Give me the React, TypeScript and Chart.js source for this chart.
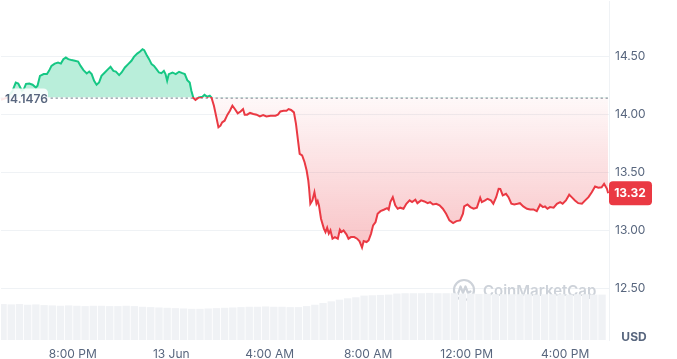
import React, { useEffect, useRef } from 'react';
import { Chart, registerables } from 'chart.js';

Chart.register(...registerables);

// Reference (open) price and latest price
const BASELINE = 14.1476;
const LAST_PRICE = 13.32;

// Time of each price sample, minutes since 12 Jun 00:00
const times = [
  1025, 1039, 1052, 1061, 1067, 1072, 1076, 1081, 1086, 1094, 1102, 1110, 1114, 1120, 1129, 1137, 1142, 1148, 1156, 1164,
  1171, 1177, 1183, 1189, 1197, 1205, 1213, 1219, 1226, 1234, 1240, 1246, 1252, 1258, 1264, 1270, 1278, 1286, 1292, 1299,
  1305, 1313, 1319, 1327, 1335, 1343, 1349, 1357, 1364, 1370, 1374, 1380, 1386, 1392, 1398, 1404, 1410, 1416, 1422, 1426,
  1430, 1434, 1443, 1451, 1459, 1467, 1473, 1479, 1485, 1489, 1494, 1499, 1507, 1516, 1521, 1528, 1534, 1538, 1544, 1550,
  1555, 1560, 1564, 1570, 1577, 1583, 1589, 1595, 1602, 1609, 1615, 1619, 1625, 1632, 1640, 1648, 1656, 1664, 1672, 1682,
  1694, 1700, 1706, 1714, 1721, 1726, 1732, 1739, 1744, 1749, 1753, 1759, 1765, 1770, 1774, 1776, 1779, 1784, 1789, 1794,
  1797, 1800, 1805, 1812, 1816, 1820, 1824, 1828, 1833, 1839, 1846, 1851, 1855, 1860, 1867, 1872, 1878, 1886, 1893, 1899,
  1905, 1909, 1916, 1921, 1927, 1932, 1938, 1943, 1950, 1958, 1966, 1970, 1974, 1980, 1986, 1992, 1998, 2006, 2013, 2021,
  2027, 2035, 2040, 2049, 2057, 2065, 2071, 2078, 2086, 2094, 2102, 2110, 2118, 2127, 2135, 2144, 2151, 2154, 2162, 2169,
  2177, 2185, 2193, 2197, 2205, 2211, 2219, 2225, 2232, 2238, 2242, 2248, 2256, 2262, 2269, 2276, 2284, 2290, 2298, 2307,
  2315, 2323, 2331, 2339, 2346, 2351, 2357, 2363, 2372, 2380, 2388, 2394, 2402, 2410, 2416, 2424, 2432, 2441, 2449, 2457,
  2465, 2473, 2481, 2489, 2495, 2502, 2505,
];

// Price in USD
const prices = [
  14.129, 14.147, 14.198, 14.278, 14.27, 14.235, 14.207, 14.224, 14.267, 14.27, 14.259, 14.235, 14.25, 14.336, 14.351, 14.351, 14.379, 14.422, 14.442, 14.451,
  14.442, 14.48, 14.494, 14.48, 14.472, 14.466, 14.459, 14.422, 14.385, 14.356, 14.373, 14.351, 14.293, 14.259, 14.278, 14.336, 14.365, 14.394, 14.414, 14.379,
  14.373, 14.342, 14.365, 14.408, 14.437, 14.466, 14.5, 14.528, 14.546, 14.566, 14.558, 14.517, 14.48, 14.437, 14.422, 14.394, 14.365, 14.359, 14.379, 14.351,
  14.293, 14.351, 14.365, 14.351, 14.371, 14.359, 14.351, 14.299, 14.278, 14.207, 14.144, 14.127, 14.149, 14.155, 14.172, 14.155, 14.164, 14.149, 14.078, 13.977,
  13.891, 13.905, 13.934, 13.948, 14.0, 14.034, 14.078, 14.049, 14.011, 14.028, 14.049, 14.0, 14.0, 14.015, 14.006, 14.0, 13.985, 13.997, 13.985, 13.991,
  13.991, 14.0, 14.028, 14.034, 14.034, 14.049, 14.041, 14.02, 13.92, 13.776, 13.661, 13.647, 13.589, 13.517, 13.431, 13.362, 13.23, 13.259, 13.33, 13.23,
  13.253, 13.216, 13.101, 13.015, 12.985, 13.023, 12.972, 13.0, 12.928, 12.942, 12.928, 13.006, 12.985, 13.0, 12.966, 12.928, 12.942, 12.942, 12.928, 12.905,
  12.851, 12.908, 12.899, 12.914, 12.972, 13.043, 13.072, 13.144, 13.166, 13.178, 13.192, 13.178, 13.244, 13.287, 13.216, 13.187, 13.196, 13.187, 13.23, 13.259,
  13.244, 13.265, 13.235, 13.259, 13.25, 13.235, 13.244, 13.224, 13.23, 13.216, 13.187, 13.144, 13.086, 13.063, 13.08, 13.086, 13.144, 13.207, 13.224, 13.201,
  13.187, 13.196, 13.282, 13.244, 13.259, 13.273, 13.259, 13.23, 13.287, 13.359, 13.358, 13.302, 13.316, 13.287, 13.23, 13.224, 13.23, 13.235, 13.207, 13.187,
  13.181, 13.181, 13.166, 13.222, 13.201, 13.207, 13.187, 13.201, 13.196, 13.23, 13.244, 13.23, 13.259, 13.308, 13.287, 13.259, 13.235, 13.23, 13.259, 13.287,
  13.33, 13.379, 13.368, 13.373, 13.403, 13.359, 13.32,
];

// Volume bars: one every 20 minutes starting at 17:10 on 12 Jun (millions USD)
const VOLUME_START = 1030;
const VOLUME_STEP = 20;
const volumes = [
  10.6, 10.5, 10.6, 10.4, 10.5, 10.3,
  10.2, 10.1, 10.2, 10.1, 10.0, 10.1, 10.1, 10.0, 10.0, 10.1, 10.0,
  9.8, 9.7, 9.6, 9.5, 9.4, 9.3, 9.2, 9.2, 9.3, 9.4, 9.5, 9.6,
  9.7, 9.8, 9.8, 9.9, 9.8, 9.8, 9.7, 9.7,
  10.0, 10.4, 10.9, 11.4, 11.9, 12.3, 12.6,
  13.1, 13.2, 13.3, 13.4,
  13.7, 13.8, 13.8, 13.8, 13.9, 13.8, 13.8, 13.8, 13.7, 13.7,
  13.6, 13.6, 13.5, 13.5, 13.5, 13.5, 13.5, 13.4, 13.5, 13.5, 13.5, 13.4, 13.5, 13.5, 13.4, 13.4,
];

// Axes
const xTickValues = [1200, 1440, 1680, 1920, 2160, 2400];
const xTickLabels = ['8:00 PM', '13 Jun', '4:00 AM', '8:00 AM', '12:00 PM', '4:00 PM'];
const yTickValues = [12.5, 13.0, 13.5, 14.0, 14.5];
const X_MIN = 1025;
const X_MAX = 2507;
const Y_MIN = 12.052;
const Y_MAX = 14.983;
const VOLUME_AXIS_MAX = 100;

const GREEN = '#16c784';
const RED = '#ea3943';
const TEXT = '#58667e';
const GRID = '#eff2f5';
const FONT = "Inter, 'Noto Sans', sans-serif";

function roundRect(ctx: CanvasRenderingContext2D, x: number, y: number, w: number, h: number, r: number) {
  ctx.beginPath();
  ctx.moveTo(x + r, y);
  ctx.lineTo(x + w - r, y);
  ctx.quadraticCurveTo(x + w, y, x + w, y + r);
  ctx.lineTo(x + w, y + h - r);
  ctx.quadraticCurveTo(x + w, y + h, x + w - r, y + h);
  ctx.lineTo(x + r, y + h);
  ctx.quadraticCurveTo(x, y + h, x, y + h - r);
  ctx.lineTo(x, y + r);
  ctx.quadraticCurveTo(x, y, x + r, y);
  ctx.closePath();
}

const overlayPlugin = {
  id: 'overlay',
  beforeDatasetsDraw(chart: any) {
    const { ctx, chartArea: a, scales } = chart;
    const by = scales.y.getPixelForValue(BASELINE);
    ctx.save();
    // watermark
    const wy = a.bottom - 50;
    const cx = a.right - 145;
    ctx.strokeStyle = '#cdd2d9';
    ctx.lineWidth = 2.2;
    ctx.lineJoin = 'round';
    ctx.lineCap = 'round';
    ctx.beginPath();
    ctx.arc(cx, wy, 10, 0, Math.PI * 2);
    ctx.stroke();
    ctx.beginPath();
    ctx.moveTo(cx - 6, wy + 4);
    ctx.lineTo(cx - 3.5, wy - 3.5);
    ctx.lineTo(cx - 1, wy + 3);
    ctx.lineTo(cx + 1.5, wy - 3.5);
    ctx.lineTo(cx + 4, wy + 3);
    ctx.lineTo(cx + 6.5, wy + 1.5);
    ctx.stroke();
    ctx.fillStyle = '#cdd2d9';
    ctx.font = `600 15px ${FONT}`;
    ctx.textBaseline = 'middle';
    ctx.textAlign = 'left';
    ctx.fillText('CoinMarketCap', cx + 19, wy + 1);
    // dotted baseline
    ctx.strokeStyle = '#707a8a';
    ctx.lineWidth = 1;
    ctx.setLineDash([1.5, 3.5]);
    ctx.beginPath();
    ctx.moveTo(a.left, by + 0.5);
    ctx.lineTo(a.right, by + 0.5);
    ctx.stroke();
    ctx.restore();
  },
  afterDraw(chart: any) {
    const { ctx, chartArea: a, scales } = chart;
    const by = scales.y.getPixelForValue(BASELINE);
    const py = scales.y.getPixelForValue(LAST_PRICE);
    ctx.save();
    // baseline label
    ctx.fillStyle = 'rgba(255,255,255,0.88)';
    roundRect(ctx, a.left - 6, by - 9, 53, 22, 5);
    ctx.fill();
    ctx.fillStyle = TEXT;
    ctx.font = `600 12px ${FONT}`;
    ctx.textBaseline = 'middle';
    ctx.textAlign = 'left';
    ctx.fillText(BASELINE.toFixed(4), a.left + 4, by + 2);
    // last price tag
    ctx.fillStyle = RED;
    roundRect(ctx, a.right, py - 12, 43, 24, 4);
    ctx.fill();
    ctx.fillStyle = '#ffffff';
    ctx.font = `700 12px ${FONT}`;
    ctx.textAlign = 'center';
    ctx.fillText(LAST_PRICE.toFixed(2), a.right + 21, py);
    // currency
    ctx.fillStyle = TEXT;
    ctx.font = `700 12px ${FONT}`;
    ctx.fillText('USD', a.right + 25, a.bottom - 3);
    ctx.restore();
  },
};

export default function App() {
  const ref = useRef<HTMLCanvasElement | null>(null);
  useEffect(() => {
    if (!ref.current) return;
    Chart.defaults.font.family = FONT;
    const lineData = times.map((t, i) => ({ x: t, y: prices[i] }));
    const volData = volumes.map((v, i) => ({ x: VOLUME_START + i * VOLUME_STEP, y: v }));
    const chart = new Chart(ref.current, {
      type: 'line',
      data: {
        datasets: [
          {
            type: 'line',
            data: lineData,
            borderColor: RED,
            borderWidth: 2,
            pointRadius: 0,
            tension: 0,
            fill: { target: { value: BASELINE }, above: 'rgba(22,199,132,0.3)', below: 'rgba(234,57,67,0.12)' },
            yAxisID: 'y',
            order: 0,
          } as any,
          {
            type: 'bar',
            data: volData,
            backgroundColor: '#f0f2f5',
            borderWidth: 0,
            barPercentage: 0.9,
            categoryPercentage: 1,
            yAxisID: 'y2',
            order: 1,
          } as any,
        ],
      },
      options: {
        responsive: false,
        animation: false,
        layout: { padding: 0 },
        plugins: { legend: { display: false }, tooltip: { enabled: false } },
        scales: {
          x: {
            type: 'linear',
            min: X_MIN,
            max: X_MAX,
            offset: false,
            grid: { display: false, drawTicks: false },
            border: { display: false },
            afterBuildTicks: (s: any) => {
              s.ticks = xTickValues.map((v) => ({ value: v }));
            },
            afterFit: (s: any) => {
              s.height = 19;
              s.paddingLeft = 0;
              s.paddingRight = 0;
            },
            ticks: {
              autoSkip: false,
              maxRotation: 0,
              padding: 7,
              color: TEXT,
              font: { size: 12 },
              callback: (v: any) => {
                const i = xTickValues.indexOf(Number(v));
                return i >= 0 ? xTickLabels[i] : '';
              },
            },
          },
          y: {
            type: 'linear',
            position: 'right',
            min: Y_MIN,
            max: Y_MAX,
            grid: { color: GRID, drawTicks: false },
            border: { display: true, color: GRID },
            afterBuildTicks: (s: any) => {
              s.ticks = yTickValues.map((v) => ({ value: v }));
            },
            afterFit: (s: any) => {
              s.width = 68;
              s.paddingTop = 0;
              s.paddingBottom = 0;
            },
            ticks: {
              padding: 6,
              color: TEXT,
              font: { size: 12 },
              callback: (v: any) => Number(v).toFixed(2),
            },
          },
          y2: {
            type: 'linear',
            display: false,
            min: 0,
            max: VOLUME_AXIS_MAX,
          },
        },
      },
      plugins: [overlayPlugin],
    });

    // gradients depend on the laid-out chart area
    const a = chart.chartArea;
    const ys = chart.scales.y;
    const by = ys.getPixelForValue(BASELINE);
    const lowY = ys.getPixelForValue(Math.min(...prices));
    const ctx = chart.ctx;
    const f = Math.min(Math.max((by - a.top) / (a.bottom - a.top), 0), 1);
    const stroke = ctx.createLinearGradient(0, a.top, 0, a.bottom);
    stroke.addColorStop(0, GREEN);
    stroke.addColorStop(f, GREEN);
    stroke.addColorStop(f, RED);
    stroke.addColorStop(1, RED);
    const redFill = ctx.createLinearGradient(0, by, 0, lowY);
    redFill.addColorStop(0, 'rgba(234,57,67,0.03)');
    redFill.addColorStop(1, 'rgba(234,57,67,0.3)');
    const ds: any = chart.data.datasets[0];
    ds.borderColor = stroke;
    ds.fill = { target: { value: BASELINE }, above: 'rgba(22,199,132,0.3)', below: redFill };
    chart.update('none');

    return () => chart.destroy();
  }, []);

  return (
    <div style={{ position: 'fixed', left: 0, top: 0, width: 677, height: 359, background: '#fff' }}>
      <canvas ref={ref} width={677} height={359} />
    </div>
  );
}
